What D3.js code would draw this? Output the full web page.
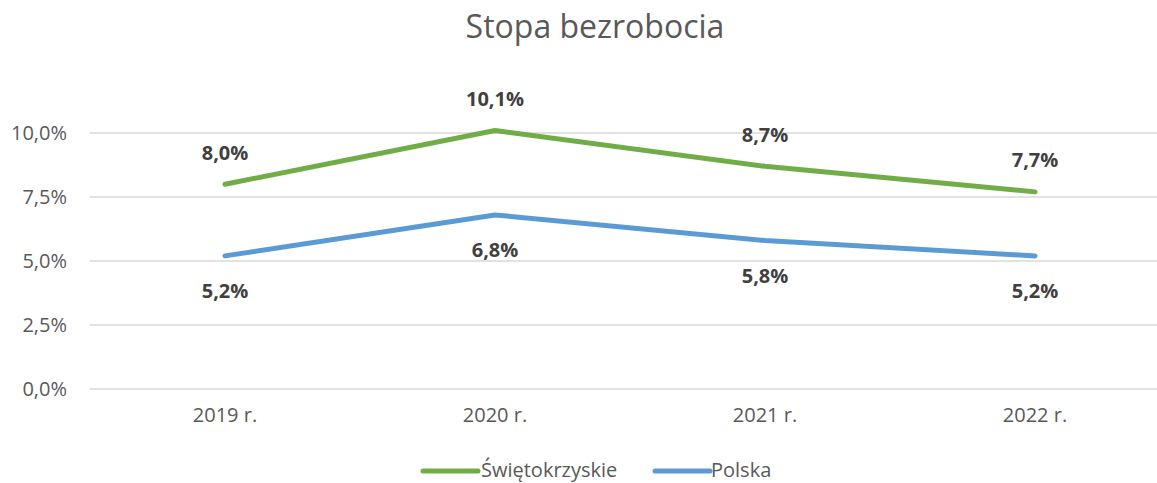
<!DOCTYPE html>
<html><head><meta charset="utf-8">
<script src="https://cdn.jsdelivr.net/npm/d3@7"></script>
<style>body{margin:0;background:#fff;} text{font-family:"Open Sans","Noto Sans",sans-serif;}</style>
</head><body>
<svg id="c" width="1157" height="483"></svg>
<script>
const categories = ["2019 r.", "2020 r.", "2021 r.", "2022 r."];
const swietokrzyskie = [8.0, 10.1, 8.7, 7.7];
const polska = [5.2, 6.8, 5.8, 5.2];
const yTicks = [0, 2.5, 5, 7.5, 10];
const seriesNames = ["Świętokrzyskie", "Polska"];
const colors = ["#70AD47", "#5B9BD5"];

const svg = d3.select("#c");
const W = 1157, H = 483;
const x = d3.scaleBand().domain(categories).range([90, 1170]);
const y = d3.scaleLinear().domain([0, 10]).range([389, 133]);
const fmt = v => d3.format(".1f")(v).replace(".", ",") + "%";

svg.append("text").attr("x", 595).attr("y", 38).attr("text-anchor", "middle")
  .attr("font-size", 32).attr("fill", "#595959").text("Stopa bezrobocia");

// gridlines
svg.append("g").selectAll("line").data(yTicks).join("line")
  .attr("x1", 90).attr("x2", W).attr("y1", d => y(d)).attr("y2", d => y(d))
  .attr("stroke", "#D9D9D9").attr("stroke-width", 1.3);

// y axis
const ya = svg.append("g").attr("transform", "translate(67,0)")
  .call(d3.axisLeft(y).tickValues(yTicks).tickFormat(fmt).tickSize(0).tickPadding(0));
ya.select(".domain").remove();
ya.selectAll("text").attr("font-size", 20).attr("fill", "#595959").attr("font-family", "Open Sans");

// x axis
const xa = svg.append("g").attr("transform", "translate(0,389)")
  .call(d3.axisBottom(x).tickSize(0).tickPadding(19));
xa.select(".domain").remove();
xa.selectAll("text").attr("font-size", 20).attr("fill", "#595959").attr("font-family", "Open Sans");

const line = d3.line().x((d, i) => x(categories[i]) + x.bandwidth() / 2).y(d => y(d));
const series = [swietokrzyskie, polska];
series.forEach((s, k) => {
  svg.append("path").datum(s).attr("d", line).attr("fill", "none")
    .attr("stroke", colors[k]).attr("stroke-width", 5).attr("stroke-linecap", "round").attr("stroke-linejoin", "round");
  svg.append("g").selectAll("text").data(s).join("text")
    .attr("x", (d, i) => x(categories[i]) + x.bandwidth() / 2)
    .attr("y", d => y(d) + (k === 0 ? -32 : 35))
    .attr("dominant-baseline", "central").attr("text-anchor", "middle")
    .attr("font-size", 20).attr("font-weight", "bold").attr("fill", "#404040")
    .text(fmt);
});

// legend
const leg = [{x: 423, tx: 481}, {x: 655, tx: 711}];
seriesNames.forEach((n, k) => {
  svg.append("line").attr("x1", leg[k].x).attr("x2", leg[k].x + 55).attr("y1", 471).attr("y2", 471)
    .attr("stroke", colors[k]).attr("stroke-width", 5).attr("stroke-linecap", "round");
  svg.append("text").attr("x", leg[k].tx).attr("y", 477).attr("font-size", 20).attr("fill", "#595959").text(n);
});
</script>
</body></html>
